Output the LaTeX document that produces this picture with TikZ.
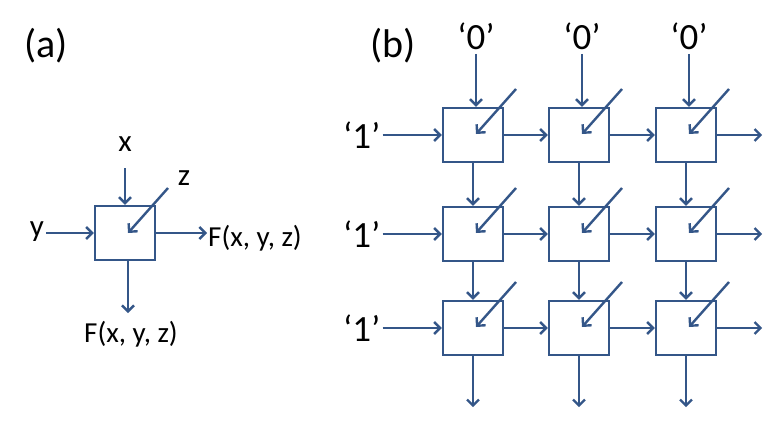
\documentclass[tikz,border=0pt]{standalone}
\usepackage{fontspec}
\setmainfont{Carlito}
\usetikzlibrary{arrows.meta,calc}
\definecolor{cellblue}{RGB}{52,86,136}

\begin{document}
\begin{tikzpicture}[x=1pt,y=-1pt,
  cell/.style={rectangle,draw=cellblue,line width=2.4pt,minimum width=60pt,minimum height=54pt,inner sep=0pt},
  wire/.style={draw=cellblue,line width=2.4pt,-{Straight Barb[length=6pt,width=12pt]}},
  lbl/.style={font=\fontsize{31}{34}\selectfont,inner sep=2pt},
  flbl/.style={font=\fontsize{29}{32}\selectfont,inner sep=1pt},
  bit/.style={font=\fontsize{37}{40}\selectfont,inner sep=2pt},
  tag/.style={font=\fontsize{40}{44}\selectfont,inner sep=0pt}]
\useasboundingbox (0,0) rectangle (776,421);

% (a) single cell
\node[tag] (taga) at (46,46) {(a)};
\node[cell] (a) at (125,233) {};
\node[lbl] (x) at (125,144) {x};
\node[lbl] (y) at (37,232) {y};
\node[lbl] (z) at (184,178) {z};
\node[flbl] (fr) at (255,238) {F(x, y, z)};
\node[flbl] (fb) at (131,334) {F(x, y, z)};
\coordinate (zin) at ($(a.center)+(43,-45)$);
\coordinate (zend) at ($(a.center)+(3,0)$);
\coordinate (xin) at (125,168);
\coordinate (aout) at (128,313);
\draw[wire] (xin) -- (a.north);
\draw[wire] (a.west -| y.east) -- (a.west);
\draw[wire] (zin) -- (zend);
\draw[wire] (a.east) -- (a.east -| fr.west);
\draw[wire] (a.south -| aout) -- (aout);

% (b) array of cells
\node[tag] (tagb) at (393,46) {(b)};
\foreach \r/\y in {1/135,2/234,3/328}
  \foreach \c/\x in {1/473,2/579,3/686} {
    \node[cell] (c\r\c) at (\x,\y) {};
    \coordinate (zin\r\c) at ($(c\r\c.center)+(43,-46)$);
    \coordinate (zend\r\c) at ($(c\r\c.center)+(3,-1)$);
    \draw[wire] (zin\r\c) -- (zend\r\c);
  }
\foreach \c in {1,2,3} {
  \node[bit] (zero\c) at ($(c1\c.north)+(3,-71)$) {‘0’};
  \coordinate (top\c) at ($(c1\c.north)+(3,-53)$);
  \draw[wire] (top\c) -- (top\c |- c1\c.north);
  \draw[wire] (c1\c.south) -- (c2\c.north);
  \draw[wire] (c2\c.south) -- (c3\c.north);
  \coordinate (bot\c) at ($(c3\c.south)+(0,51)$);
  \draw[wire] (c3\c.south) -- (bot\c);
}
\foreach \r in {1,2,3} {
  \node[bit] (one\r) at ($(c\r1.west)+(-80,0)$) {‘1’};
  \draw[wire] (c\r1.west -| one\r.east) -- (c\r1.west);
  \draw[wire] (c\r1.east) -- (c\r2.west);
  \draw[wire] (c\r2.east) -- (c\r3.west);
  \coordinate (out\r) at ($(c\r3.east)+(45,0)$);
  \draw[wire] (c\r3.east) -- (out\r);
}
\end{tikzpicture}
\end{document}
